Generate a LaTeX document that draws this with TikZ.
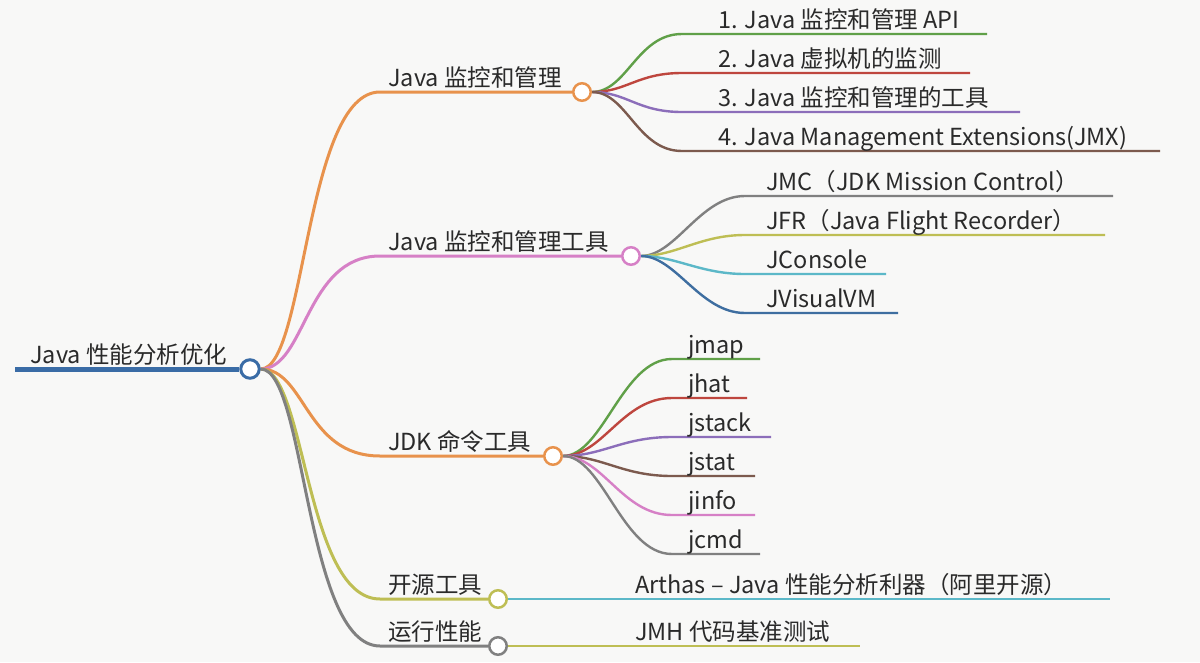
\documentclass[tikz,border=0pt]{standalone}
\usepackage{fontspec}
\setmainfont{Noto Sans CJK SC}
\usepackage{tikz}
\usetikzlibrary{calc,positioning,backgrounds}
\definecolor{paper}{RGB}{248,248,247}
\definecolor{ink}{RGB}{42,42,42}
\definecolor{rootblue}{RGB}{58,108,166}
\definecolor{orange}{RGB}{232,146,76}
\definecolor{pink}{RGB}{214,128,198}
\definecolor{green}{RGB}{96,160,72}
\definecolor{red}{RGB}{190,70,62}
\definecolor{purple}{RGB}{140,110,186}
\definecolor{brown}{RGB}{124,90,78}
\definecolor{gray}{RGB}{128,128,128}
\definecolor{olive}{RGB}{190,190,84}
\definecolor{cyan}{RGB}{92,184,200}
\definecolor{steel}{RGB}{62,110,160}

\begin{document}
\begin{tikzpicture}[x=1pt,y=-1pt,
        every node/.style={font=\fontsize{23.5}{28}\selectfont, text=ink, inner sep=0pt},
        txt/.style={anchor=base west},
        knot/.style={circle, draw, fill=white, line width=2.5pt, minimum size=17.5pt},
        trunk/.style={line width=3pt},
        twig/.style={line width=2.4pt}]
    \useasboundingbox (0,0) rectangle (1200,662);
    \begin{scope}[on background layer]
        \fill[paper] (0,0) rectangle (1200,662);
    \end{scope}

    % root
    \node[knot, draw=rootblue, line width=3pt, minimum size=18.5pt] (root) at (250,369) {};
    \node[txt] (roottxt) at (30,363) {Java 性能分析优化};
    \coordinate (rootend) at (15,369);
    \begin{scope}[on background layer]
        \draw[rootblue, line width=5pt] (rootend) -- (root.west);
    \end{scope}

    % first level
    \foreach \n/\x/\y/\c/\t in {mon/582/92/orange/{Java 监控和管理},
                                tools/631/256/pink/{Java 监控和管理工具},
                                jdk/553/456/orange/{JDK 命令工具},
                                open/498/599/olive/{开源工具},
                                run/498/646/gray/{运行性能}} {
        \node[knot, draw=\c] (\n) at (\x,\y) {};
        \node[txt] (\n txt) at (388,\y-6) {\t};
        \coordinate (\n h) at (380,\y);
        \begin{scope}[on background layer]
            \draw[trunk, \c] (root.east) .. controls +(45,0) and +(-75,0) .. (\n h) -- (\n.west);
        \end{scope}
    }

    % Java 监控和管理
    \foreach \n/\y/\e/\c/\t in {api/34/987/green/{1. Java 监控和管理 API},
                                vm/73/970/red/{2. Java 虚拟机的监测},
                                mtool/112/1020/purple/{3. Java 监控和管理的工具},
                                jmx/151/1160/brown/{4. Java Management Extensions(JMX)}} {
        \node[txt] (\n) at (718,\y-6) {\t};
        \coordinate (\n s) at (682,\y);
        \coordinate (\n e) at (\e,\y);
        \begin{scope}[on background layer]
            \draw[twig, \c] (mon.east) .. controls +(35,0) and +(-45,0) .. (\n s) -- (\n e);
        \end{scope}
    }

    % Java 监控和管理工具
    \foreach \n/\y/\e/\c/\t in {jmc/196/1113/gray/{JMC（JDK Mission Control）},
                                jfr/235/1105/olive/{JFR（Java Flight Recorder）},
                                jcon/274/886/cyan/{JConsole},
                                jvvm/313/898/steel/{JVisualVM}} {
        \node[txt] (\n) at (766,\y-6) {\t};
        \coordinate (\n s) at (745,\y);
        \coordinate (\n e) at (\e,\y);
        \begin{scope}[on background layer]
            \draw[twig, \c] (tools.east) .. controls +(35,0) and +(-45,0) .. (\n s) -- (\n e);
        \end{scope}
    }

    % JDK 命令工具
    \foreach \n/\y/\e/\c in {jmap/359/760/green, jhat/398/747/red,
                             jstack/437/771/purple, jstat/476/755/brown,
                             jinfo/515/755/pink, jcmd/554/760/gray} {
        \node[txt] (\n) at (688,\y-6) {\n};
        \coordinate (\n s) at (672,\y);
        \coordinate (\n e) at (\e,\y);
        \begin{scope}[on background layer]
            \draw[twig, \c] (jdk.east) .. controls +(40,0) and +(-50,0) .. (\n s) -- (\n e);
        \end{scope}
    }

    % 开源工具, 运行性能
    \node[txt] (arthas) at (635,593) {Arthas – Java 性能分析利器（阿里开源）};
    \coordinate (arthase) at (1110,599);
    \node[txt] (jmh) at (635,640) {JMH 代码基准测试};
    \coordinate (jmhe) at (860,646);
    \begin{scope}[on background layer]
        \draw[twig, cyan] (open.east) -- (arthase);
        \draw[twig, olive] (run.east) -- (jmhe);
    \end{scope}
\end{tikzpicture}
\end{document}
